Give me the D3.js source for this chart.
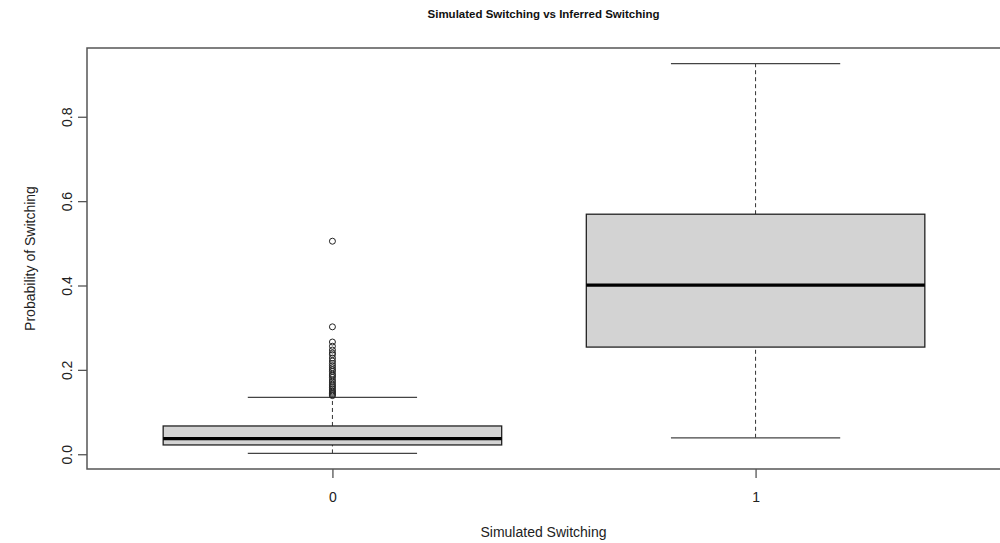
<!DOCTYPE html>
<html>
<head>
<meta charset="utf-8">
<script src="https://cdn.jsdelivr.net/npm/d3@7"></script>
<style>
  body { margin: 0; background: #fff; }
  svg { font-family: "Liberation Sans", Arial, sans-serif; }
</style>
</head>
<body>
<div id="chart"></div>
<script>
// groups on the x axis
const categories = ['0', '1'];
// five-number summaries: [lower whisker, Q1, median, Q3, upper whisker]
const lowerWhisker = [0.002, 0.039];
const q1 = [0.022, 0.254];
const median = [0.037, 0.401];
const q3 = [0.067, 0.569];
const upperWhisker = [0.135, 0.926];
// outliers of group "0"
const outliers0 = [0.505, 0.302, 0.266, 0.256, 0.247, 0.240, 0.236, 0.228, 0.221, 0.215,
  0.210, 0.205, 0.200, 0.196, 0.190, 0.186, 0.182, 0.176, 0.171, 0.166, 0.162,
  0.158, 0.154, 0.150, 0.147, 0.144, 0.141, 0.139];
const outliers1 = [];
const yTicks = [0.0, 0.2, 0.4, 0.6, 0.8];

const width = 1000;
const height = 543;
const margin = { top: 48, right: -1, bottom: 74, left: 87 };

const svg = d3.select('#chart')
  .append('svg')
  .attr('width', width)
  .attr('height', height);

const x = d3.scaleLinear()
  .domain([0.42, 2.58])
  .range([margin.left, width - margin.right]);

const y = d3.scaleLinear()
  .domain([-0.035, 0.963])
  .range([height - margin.bottom, margin.top]);

const boxes = categories.map((c, i) => ({
  cat: c,
  pos: i + 1,
  lo: lowerWhisker[i],
  q1: q1[i],
  med: median[i],
  q3: q3[i],
  hi: upperWhisker[i],
  out: i === 0 ? outliers0 : outliers1
}));

const g = svg.append('g');

// whiskers (dashed)
g.selectAll('line.whisk-lo')
  .data(boxes)
  .join('line')
  .attr('x1', (d) => x(d.pos)).attr('x2', (d) => x(d.pos))
  .attr('y1', (d) => y(d.lo)).attr('y2', (d) => y(d.q1))
  .attr('stroke', '#333').attr('stroke-dasharray', '4,3');

g.selectAll('line.whisk-hi')
  .data(boxes)
  .join('line')
  .attr('x1', (d) => x(d.pos)).attr('x2', (d) => x(d.pos))
  .attr('y1', (d) => y(d.q3)).attr('y2', (d) => y(d.hi))
  .attr('stroke', '#333').attr('stroke-dasharray', '4,3');

// whisker caps
['lo', 'hi'].forEach((k) => {
  g.append('g').selectAll('line')
    .data(boxes)
    .join('line')
    .attr('x1', (d) => x(d.pos - 0.2)).attr('x2', (d) => x(d.pos + 0.2))
    .attr('y1', (d) => y(d[k])).attr('y2', (d) => y(d[k]))
    .attr('stroke', '#444').attr('stroke-width', 1.3);
});

// boxes
g.append('g').selectAll('rect')
  .data(boxes)
  .join('rect')
  .attr('x', (d) => x(d.pos - 0.4))
  .attr('width', (d) => x(d.pos + 0.4) - x(d.pos - 0.4))
  .attr('y', (d) => y(d.q3))
  .attr('height', (d) => y(d.q1) - y(d.q3))
  .attr('fill', '#d3d3d3')
  .attr('stroke', '#222')
  .attr('stroke-width', 1.3);

// medians
g.append('g').selectAll('line')
  .data(boxes)
  .join('line')
  .attr('x1', (d) => x(d.pos - 0.4)).attr('x2', (d) => x(d.pos + 0.4))
  .attr('y1', (d) => y(d.med)).attr('y2', (d) => y(d.med))
  .attr('stroke', '#000').attr('stroke-width', 3.2);

// outliers
g.append('g').selectAll('circle')
  .data(boxes.flatMap((b) => b.out.map((v) => ({ pos: b.pos, v }))))
  .join('circle')
  .attr('cx', (d) => x(d.pos))
  .attr('cy', (d) => y(d.v))
  .attr('r', 3)
  .attr('fill', 'none')
  .attr('stroke', '#222')
  .attr('stroke-width', 1);

// plot frame
svg.append('rect')
  .attr('x', margin.left)
  .attr('y', margin.top)
  .attr('width', width - margin.right - margin.left)
  .attr('height', height - margin.bottom - margin.top)
  .attr('fill', 'none')
  .attr('stroke', '#555')
  .attr('stroke-width', 1.5);

// y axis (the frame acts as the axis line)
const yAxis = d3.axisLeft(y)
  .tickValues(yTicks)
  .tickFormat(d3.format('.1f'))
  .tickSize(9);

const ya = svg.append('g')
  .attr('transform', `translate(${margin.left},0)`)
  .call(yAxis);
ya.select('.domain').remove();
ya.selectAll('.tick line').attr('stroke', '#555').attr('stroke-width', 1.3);
ya.selectAll('.tick text')
  .attr('font-size', 14)
  .attr('fill', '#222')
  .attr('text-anchor', 'middle')
  .attr('dy', '0')
  .attr('x', 0)
  .attr('y', 0)
  .attr('transform', 'translate(-15,0) rotate(-90)');

// x axis
const xAxis = d3.axisBottom(x)
  .tickValues([1, 2])
  .tickFormat((d) => categories[d - 1])
  .tickSize(9)
  .tickPadding(14);

const xa = svg.append('g')
  .attr('transform', `translate(0,${height - margin.bottom})`)
  .call(xAxis);
xa.select('.domain').remove();
xa.selectAll('.tick line').attr('stroke', '#555').attr('stroke-width', 1.3);
xa.selectAll('.tick text').attr('font-size', 14).attr('fill', '#222');

// titles
svg.append('text')
  .attr('x', (margin.left + width) / 2)
  .attr('y', 18)
  .attr('text-anchor', 'middle')
  .attr('font-size', 11.5)
  .attr('font-weight', 'bold')
  .attr('fill', '#111')
  .text('Simulated Switching vs Inferred Switching');

svg.append('text')
  .attr('x', (margin.left + width) / 2)
  .attr('y', 537)
  .attr('text-anchor', 'middle')
  .attr('font-size', 14)
  .attr('fill', '#222')
  .text('Simulated Switching');

svg.append('text')
  .attr('transform', `translate(35,${(margin.top + height - margin.bottom) / 2}) rotate(-90)`)
  .attr('text-anchor', 'middle')
  .attr('font-size', 14)
  .attr('fill', '#222')
  .text('Probability of Switching');
</script>
</body>
</html>
